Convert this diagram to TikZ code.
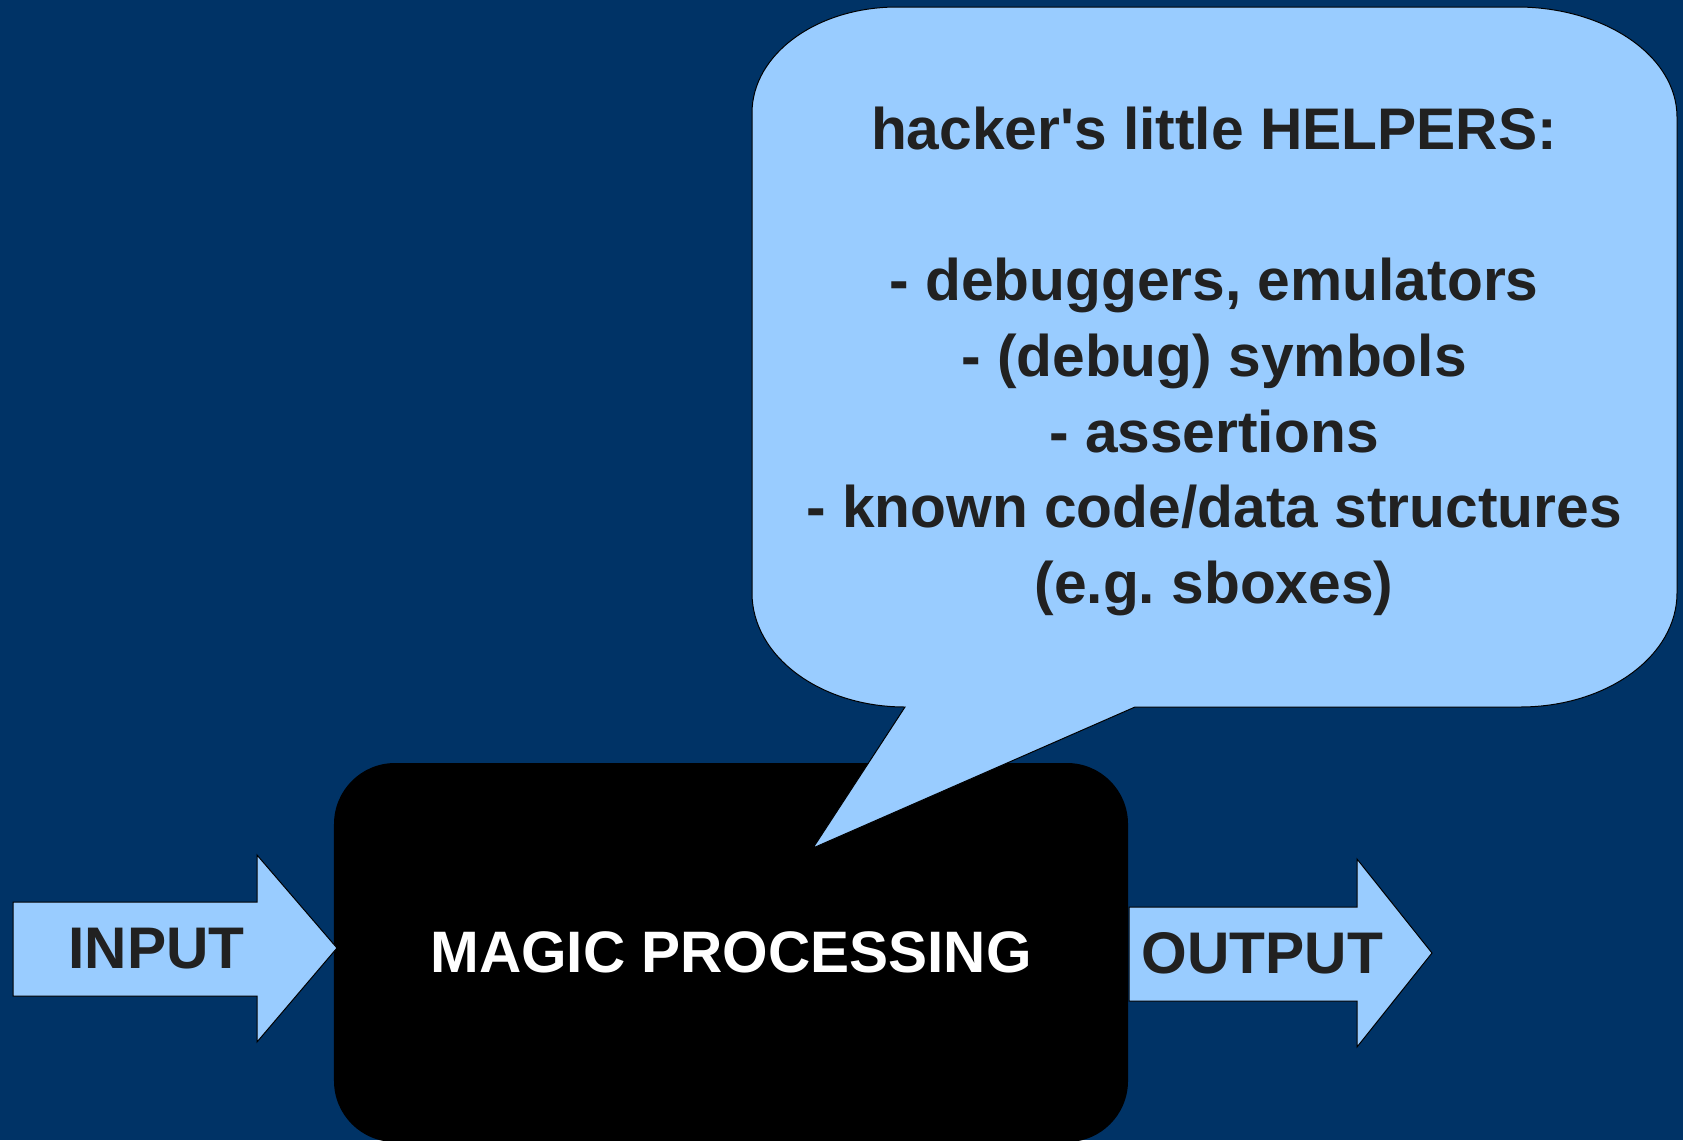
\documentclass[tikz,border=0pt]{standalone}
\usepackage{fontspec}
\setmainfont{Liberation Sans}
\frenchspacing
\definecolor{bgblue}{RGB}{0,51,102}
\definecolor{skyfill}{RGB}{153,204,255}
\definecolor{inkgray}{RGB}{33,33,33}
\tikzset{
  shapeline/.style={fill=skyfill, draw=black, line width=1bp, line join=miter},
  bigtext/.style={font=\fontsize{58.7bp}{75.6bp}\selectfont\bfseries, text=inkgray, inner sep=0pt},
  procbox/.style={fill=black, rounded corners=61bp, inner sep=0pt,
    font=\fontsize{58.5bp}{75.6bp}\selectfont\bfseries, text=white},
}
\begin{document}
\begin{tikzpicture}[x=1bp, y=-1bp]
  % backdrop
  \fill[bgblue] (0,0) rectangle (1683,1140);
  \useasboundingbox (0,0) rectangle (1683,1140);

  % the black processing block
  \node[procbox, minimum width=794bp, minimum height=379bp] (proc) at (731,952.5) {MAGIC PROCESSING};

  % speech bubble with its tail reaching into the block
  \coordinate (tip) at (813,848);
  \draw[shapeline]
    (897,7) -- (1517,7)
    .. controls (1605,7) and (1677,56) .. (1677,117)
    -- (1677,593)
    .. controls (1677,656) and (1607,707) .. (1520,707)
    -- (1135,707) -- (tip) -- (905,707)
    .. controls (820,707) and (752,656) .. (752,593)
    -- (752,113)
    .. controls (752,54) and (817,7) .. (897,7) -- cycle;
  \node[bigtext, align=center] (helpers) at (1214,361.5)
    {hacker\textquotesingle s little HELPERS:\\[75.6bp]
     - debuggers, emulators\\
     - (debug) symbols\\
     - assertions\\
     - known code/data structures\\
     (e.g. sboxes)};

  % input arrow
  \draw[shapeline] (13,902) -- (257,902) -- (257,855) -- (337,948)
    -- (257,1042) -- (257,996) -- (13,996) -- cycle;
  \node[bigtext, anchor=base] (input) at (156.5,968) {INPUT};

  % output arrow
  \draw[shapeline] (1129,907) -- (1357,907) -- (1357,859) -- (1432,953)
    -- (1357,1047) -- (1357,1001) -- (1129,1001) -- cycle;
  \node[bigtext, anchor=base] (output) at (1262.5,973) {OUTPUT};
\end{tikzpicture}
\end{document}
